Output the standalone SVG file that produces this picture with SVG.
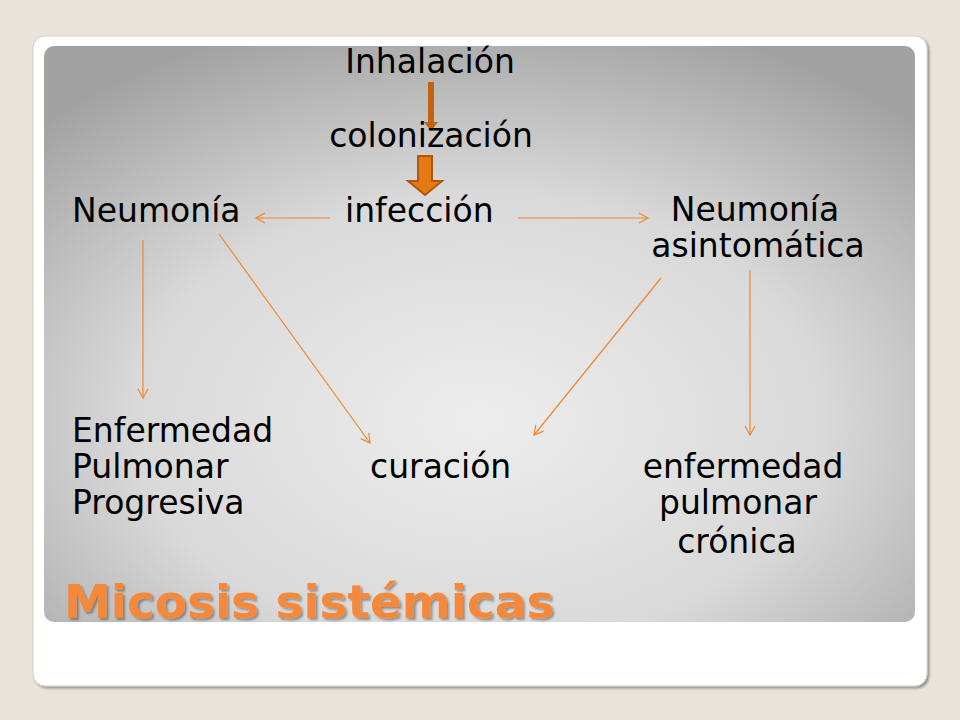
<svg xmlns="http://www.w3.org/2000/svg" width="960" height="720" viewBox="0 0 960 720">
<defs>
<radialGradient id="bg" cx="0.5" cy="0.65" r="0.72">
<stop offset="0" stop-color="#ededed"/><stop offset="0.55" stop-color="#d9d9d9"/><stop offset="1" stop-color="#a2a2a2"/>
</radialGradient>
<marker id="ah" markerWidth="12" markerHeight="12" refX="10" refY="6" orient="auto" markerUnits="userSpaceOnUse">
<path d="M1,1 L10,6 L1,11" fill="none" stroke="#f0872e" stroke-width="1.2"/>
</marker>
<filter id="sh"><feDropShadow dx="2" dy="2" stdDeviation="1.2" flood-color="#000" flood-opacity="0.35"/></filter>
</defs>
<style>
.t{font-family:"DejaVu Sans",Verdana,sans-serif;font-size:33px;fill:#000}
.c{fill:none;stroke:#f0872e;stroke-width:1.2;marker-end:url(#ah)}
</style>
<rect width="960" height="720" fill="#e9e4da"/>
<rect x="33" y="36" width="894" height="650" rx="12" fill="#fff" stroke="#d2cdc4" filter="url(#sh)"/>
<rect x="44" y="46" width="871" height="576" rx="10" fill="url(#bg)"/>
<g id="connectors">
<rect x="428" y="82" width="6" height="42" fill="#c5620e"/>
<path d="M424,122 L438,122 L431,131 Z" fill="#c5620e"/>
<path d="M418,156 L432,156 L432,181 L442,181 L425,195 L408,181 L418,181 Z" fill="#e57a12" stroke="#b3560c" stroke-width="2"/>
<line class="c" x1="330" y1="218" x2="256" y2="218"/>
<line class="c" x1="518" y1="218" x2="648" y2="218"/>
<line class="c" x1="143" y1="240" x2="143" y2="398"/>
<line class="c" x1="219" y1="234" x2="370" y2="443"/>
<line class="c" x1="661" y1="278" x2="534" y2="435"/>
<line class="c" x1="750" y1="270" x2="750" y2="435"/>
</g>
<g id="inhalacion"><text class="t" x="430" y="73" text-anchor="middle">Inhalación</text></g>
<g id="colonizacion"><text class="t" x="431" y="147" text-anchor="middle">colonización</text></g>
<g id="neumonia"><text class="t" x="72" y="222">Neumonía</text></g>
<g id="infeccion"><text class="t" x="345" y="222">infección</text></g>
<g id="asintomatica"><text class="t" x="755" y="221" text-anchor="middle">Neumonía</text><text class="t" x="758" y="257" text-anchor="middle">asintomática</text></g>
<g id="epp"><text class="t" x="72" y="442">Enfermedad</text><text class="t" x="72" y="478">Pulmonar</text><text class="t" x="72" y="514">Progresiva</text></g>
<g id="curacion"><text class="t" x="370" y="478">curación</text></g>
<g id="epc"><text class="t" x="743" y="478" text-anchor="middle">enfermedad</text><text class="t" x="738" y="514" text-anchor="middle">pulmonar</text><text class="t" x="737" y="553" text-anchor="middle">crónica</text></g>
<g id="title"><text x="64" y="618" font-family="'DejaVu Sans',Verdana,sans-serif" font-weight="bold" font-size="47" fill="#f5893b" filter="url(#sh)">Micosis sistémicas</text></g>
</svg>
